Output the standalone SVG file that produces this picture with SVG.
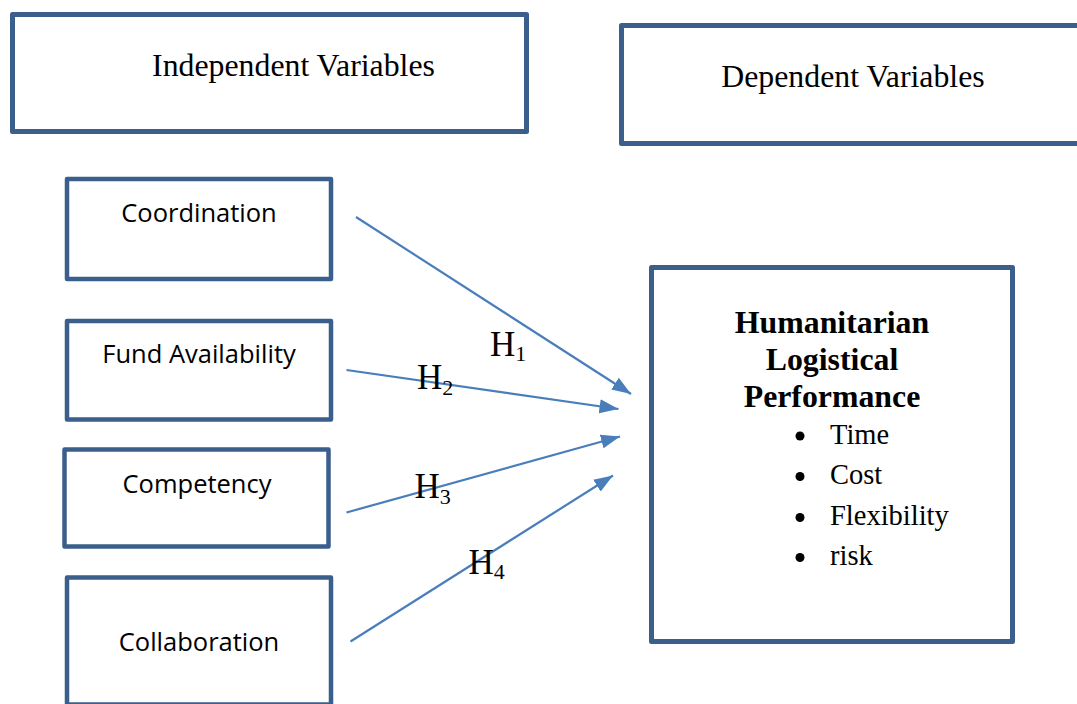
<svg xmlns="http://www.w3.org/2000/svg" width="1077" height="704" viewBox="0 0 1077 704">
<style>
.box{fill:#fff;stroke:#3B5F8D;stroke-width:4.5;stroke-linejoin:round}
.big{stroke-width:5}
.serif{font-family:"Liberation Serif","Times New Roman",serif;fill:#000}
.sans{font-family:"Open Sans","Noto Sans",sans-serif;font-size:25.5px;fill:#000;text-anchor:middle}
.hdr{font-size:31.8px;text-anchor:middle}
.ttl{font-size:31.8px;font-weight:bold;text-anchor:middle}
.item{font-size:28.5px}
.h{font-size:35px}
.sub{font-size:22px}
.conn{stroke:#4A7EBB;stroke-width:2.2;fill:none;marker-end:url(#ah)}
</style>
<defs>
<marker id="ah" markerUnits="userSpaceOnUse" markerWidth="20" markerHeight="16" viewBox="0 0 20 16" refX="19" refY="8" orient="auto">
<path d="M0,1 L19,8 L0,15 Z" fill="#4A7EBB"/>
</marker>
</defs>
<rect width="1077" height="704" fill="#fff"/>
<g id="independent-header">
<rect class="box big" x="12.5" y="14.5" width="514" height="117"/>
<text class="serif hdr" x="293.5" y="76">Independent Variables</text>
</g>
<g id="dependent-header">
<rect class="box big" x="621.5" y="25.5" width="500" height="118"/>
<text class="serif hdr" x="853" y="87">Dependent Variables</text>
</g>
<g id="coordination">
<rect class="box" x="67" y="179" width="264" height="100"/>
<text class="sans" x="199" y="222">Coordination</text>
</g>
<g id="fund-availability">
<rect class="box" x="67" y="321" width="264" height="98.5"/>
<text class="sans" x="199" y="363">Fund Availability</text>
</g>
<g id="competency">
<rect class="box" x="64.5" y="449.5" width="264" height="97"/>
<text class="sans" x="197" y="493">Competency</text>
</g>
<g id="collaboration">
<rect class="box" x="67" y="577.5" width="264" height="127"/>
<text class="sans" x="199" y="651">Collaboration</text>
</g>
<g id="performance">
<rect class="box big" x="651.5" y="267.5" width="361" height="374"/>
<text class="serif ttl" x="832" y="333">Humanitarian</text>
<text class="serif ttl" x="832" y="370">Logistical</text>
<text class="serif ttl" x="832" y="407">Performance</text>
<circle cx="800" cy="436" r="4.5" fill="#000"/>
<circle cx="800" cy="476.5" r="4.5" fill="#000"/>
<circle cx="800" cy="517.5" r="4.5" fill="#000"/>
<circle cx="800" cy="557.5" r="4.5" fill="#000"/>
<text class="serif item" x="830" y="443.5">Time</text>
<text class="serif item" x="830" y="484">Cost</text>
<text class="serif item" x="830" y="525">Flexibility</text>
<text class="serif item" x="830" y="565">risk</text>
</g>
<g id="connectors">
<line class="conn" x1="356" y1="217" x2="631" y2="394"/>
<line class="conn" x1="346.5" y1="370" x2="618.5" y2="409"/>
<line class="conn" x1="346.5" y1="512.5" x2="620" y2="436.5"/>
<line class="conn" x1="350.5" y1="641.5" x2="613" y2="475.5"/>
</g>
<g id="labels">
<text class="serif" x="490" y="355.5"><tspan class="h">H</tspan><tspan class="sub" dy="5.5">1</tspan></text>
<text class="serif" x="417" y="389"><tspan class="h">H</tspan><tspan class="sub" dy="5.5">2</tspan></text>
<text class="serif" x="414.5" y="498"><tspan class="h">H</tspan><tspan class="sub" dy="5.5">3</tspan></text>
<text class="serif" x="468.5" y="573.5"><tspan class="h">H</tspan><tspan class="sub" dy="5.5">4</tspan></text>
</g>
</svg>
